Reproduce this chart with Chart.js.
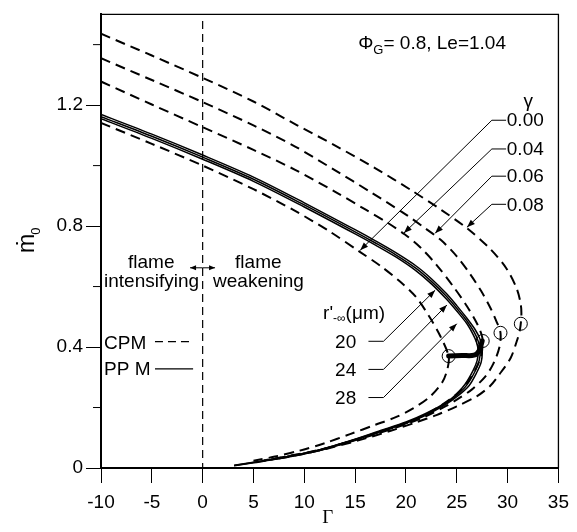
<!DOCTYPE html>
<html>
<head>
<meta charset="utf-8">
<script src="https://cdn.jsdelivr.net/npm/chart.js@4.4.0/dist/chart.umd.min.js"></script>
<style>
  html, body { margin: 0; padding: 0; background: #fff; }
</style>
</head>
<body>
<canvas id="chart" width="577" height="532"></canvas>
<script>
// axis ticks
const gammaTicks = [-10, -5, 0, 5, 10, 15, 20, 25, 30, 35];
const mTicks = [0, 0.2, 0.4, 0.6, 0.8, 1.0, 1.2, 1.4];
const mTickLabels = ['0', '', '0.4', '', '0.8', '', '1.2', ''];

// CPM (dashed) curves, [Gamma, m0], upper branch -> turning point -> lower branch
const cpmGamma000 = [[-10, 1.141], [-5, 1.072], [0, 1.0], [5, 0.922], [9.1, 0.85], [12.5, 0.782], [15.5, 0.714],
  [17.5, 0.668], [19.5, 0.614], [21, 0.565], [22.4, 0.495], [23.4, 0.435], [24.2, 0.37], [24.1, 0.33],
  [23.6, 0.285], [22.4, 0.237], [20.7, 0.197], [19, 0.168], [17, 0.143], [14.5, 0.112], [12, 0.082],
  [9.5, 0.057], [7, 0.037], [5, 0.024]];
const cpmGamma004 = [[-10, 1.278], [-5, 1.202], [0, 1.127], [5, 1.052], [9.1, 0.986], [13, 0.914], [16, 0.855],
  [18, 0.815], [19.9, 0.772], [21.4, 0.73], [23, 0.672], [24.7, 0.598], [26, 0.535], [27, 0.477], [27.45, 0.44],
  [27.55, 0.418], [27.4, 0.37], [26.9, 0.33], [26.2, 0.29], [25, 0.245], [23.5, 0.208], [22, 0.178], [20, 0.148],
  [17.5, 0.12], [14.5, 0.088], [11.5, 0.06], [8.5, 0.04], [6, 0.025]];
const cpmGamma006 = [[-10, 1.355], [-5, 1.283], [0, 1.21], [5, 1.133], [9.1, 1.063], [13, 0.985], [16.5, 0.913],
  [20, 0.838], [22, 0.79], [23.5, 0.752], [25, 0.7], [26.3, 0.642], [27.4, 0.585], [28.3, 0.53], [28.9, 0.485],
  [29.3, 0.447], [29.2, 0.4], [28.6, 0.345], [27.8, 0.302], [26.5, 0.26], [25, 0.226], [24, 0.206], [22, 0.172],
  [20, 0.145], [17.5, 0.117], [14.5, 0.087], [11.5, 0.059], [8.5, 0.039], [6, 0.024]];
const cpmGamma008 = [[-10, 1.436], [-5, 1.364], [0, 1.29], [5, 1.212], [9.26, 1.134], [13, 1.067], [17, 0.991],
  [20.5, 0.919], [23.5, 0.853], [26, 0.793], [28.3, 0.724], [29.9, 0.659], [30.9, 0.593], [31.3, 0.54],
  [31.35, 0.5], [31.2, 0.455], [30.9, 0.419], [30.3, 0.364], [29.2, 0.31], [28.3, 0.272], [27, 0.238], [25, 0.204],
  [23, 0.175], [21, 0.151], [18.5, 0.123], [15.5, 0.093], [12.5, 0.066], [9.5, 0.044], [7, 0.028]];

// PPM (solid) curves for r'_-inf = 20, 24, 28 um
const ppmR20 = [[-10, 1.169], [-5, 1.104], [0, 1.035], [5, 0.962], [10, 0.877], [15, 0.788], [17, 0.751],
  [19, 0.712], [21, 0.668], [22.5, 0.626], [24, 0.576], [25, 0.537], [26, 0.495], [26.8, 0.458], [27.3, 0.425],
  [27.5, 0.39], [27.4, 0.35], [26.95, 0.315], [26.2, 0.272], [25.1, 0.238], [24, 0.212], [22, 0.175], [20, 0.148],
  [17.5, 0.12], [14.2, 0.085], [11, 0.054], [7.6, 0.031], [5, 0.017], [3.1, 0.007]];
const ppmR24 = [[-10, 1.162], [-5, 1.097], [0, 1.028], [5, 0.955], [10, 0.87], [15, 0.781], [17, 0.744],
  [19, 0.705], [21, 0.66], [22.5, 0.617], [24, 0.567], [25, 0.528], [26, 0.486], [26.7, 0.45], [27.1, 0.42],
  [27.3, 0.39], [27.2, 0.355], [26.8, 0.32], [26, 0.275], [25, 0.24], [24, 0.215], [22, 0.178], [20, 0.15],
  [17.5, 0.122], [14.2, 0.086], [11, 0.055], [7.6, 0.032], [5, 0.018], [3.1, 0.008]];
const ppmR28 = [[-10, 1.155], [-5, 1.09], [0, 1.021], [5, 0.948], [10, 0.863], [15, 0.774], [17, 0.737],
  [19, 0.698], [21, 0.652], [22.5, 0.609], [24, 0.558], [25, 0.519], [26, 0.477], [26.6, 0.442], [26.95, 0.415],
  [27.1, 0.388], [27, 0.355], [26.6, 0.322], [25.8, 0.276], [24.9, 0.242], [24, 0.218], [22, 0.181],
  [20, 0.152], [17.5, 0.124], [14.2, 0.087], [11, 0.056], [7.6, 0.033], [5, 0.019], [3.1, 0.009]];

// jump from the CPM (gamma=0) turning point onto the PPM curves
const jumpPath = [[24.2, 0.37], [25.5, 0.372], [26.7, 0.373], [27.2, 0.388], [27.5, 0.42]];
// turning points circled in the figure
const turningPoints = [[24.2, 0.37], [27.55, 0.42], [29.3, 0.447], [31.3, 0.477]];

// annotation text + anchors (data units)
const gammaLabels = ['0.00', '0.04', '0.06', '0.08'];
const gammaLabelLineM = [1.150, 1.055, 0.965, 0.872];
const gammaArrowTips = [[15.5, 0.72], [19.8, 0.777], [22.87, 0.776], [26.0, 0.796]];
const rLabels = ['20', '24', '28'];
const rLabelLineM = [0.419, 0.326, 0.233];
const rArrowTips = [[22.87, 0.588], [24.03, 0.539], [25.0, 0.477]];

const toXY = pts => pts.map(([x, y]) => ({ x, y }));

const curve = (pts, dashed) => ({
  data: toXY(pts),
  showLine: true,
  borderColor: '#000',
  borderWidth: dashed ? 2 : 1.5,
  borderDash: dashed ? [10, 6] : [],
  pointRadius: 0,
  tension: 0.3,
  fill: false
});

const FONT = '19px "Liberation Sans", Arial, sans-serif';

function arrow(ctx, x1, y1, x2, y2, len = 8, half = 3) {
  ctx.beginPath(); ctx.moveTo(x1, y1); ctx.lineTo(x2, y2); ctx.stroke();
  const a = Math.atan2(y2 - y1, x2 - x1);
  ctx.beginPath();
  ctx.moveTo(x2, y2);
  ctx.lineTo(x2 - len * Math.cos(a) + half * Math.sin(a), y2 - len * Math.sin(a) - half * Math.cos(a));
  ctx.lineTo(x2 - len * Math.cos(a) - half * Math.sin(a), y2 - len * Math.sin(a) + half * Math.cos(a));
  ctx.closePath(); ctx.fill();
}

const annotations = {
  id: 'annotations',
  beforeDatasetsDraw(chart) {
    const { ctx, scales: { x, y } } = chart;
    // flame intensifying / weakening divider at Gamma = 0
    ctx.save();
    ctx.strokeStyle = '#000'; ctx.lineWidth = 1.2; ctx.setLineDash([8, 5]);
    ctx.beginPath();
    ctx.moveTo(x.getPixelForValue(0), y.getPixelForValue(1.478));
    ctx.lineTo(x.getPixelForValue(0), y.getPixelForValue(0));
    ctx.stroke();
    ctx.restore();
  },
  afterDraw(chart) {
    const { ctx, chartArea: ca, scales: { x, y } } = chart;
    const px = v => x.getPixelForValue(v);
    const py = v => y.getPixelForValue(v);
    ctx.save();
    ctx.fillStyle = '#000'; ctx.strokeStyle = '#000';

    // frame top/right
    ctx.lineWidth = 1.3;
    ctx.beginPath();
    ctx.moveTo(ca.left, ca.top); ctx.lineTo(ca.right, ca.top); ctx.lineTo(ca.right, ca.bottom);
    ctx.stroke();

    // short minor ticks on the m axis
    ctx.lineWidth = 1;
    mTicks.forEach((v, i) => {
      if (mTickLabels[i] !== '') return;
      ctx.beginPath(); ctx.moveTo(ca.left - 8, py(v)); ctx.lineTo(ca.left, py(v)); ctx.stroke();
    });

    // axis titles
    ctx.font = '19px "Liberation Serif", "Times New Roman", serif';
    ctx.textAlign = 'center'; ctx.textBaseline = 'alphabetic';
    ctx.fillText('Γ', (ca.left + ca.right) / 2 - 2, ca.bottom + 55);

    ctx.save();
    ctx.translate(33.5, 253);
    ctx.rotate(-Math.PI / 2);
    ctx.textAlign = 'left';
    ctx.font = '23px "Liberation Sans", "DejaVu Sans", sans-serif';
    ctx.fillText('ṁ', 0, 0);
    const mw = ctx.measureText('ṁ').width;
    ctx.font = '13px "Liberation Sans", sans-serif';
    ctx.fillText('0', mw - 1, 6);
    ctx.restore();

    ctx.font = FONT;
    ctx.textAlign = 'left'; ctx.textBaseline = 'alphabetic';

    // flame labels
    ctx.fillText('flame', px(-7.34), py(0.663));
    ctx.fillText('intensifying', px(-9.7), py(0.599));
    ctx.fillText('flame', px(3.19), py(0.663));
    ctx.fillText('weakening', px(1.02), py(0.599));
    ctx.lineWidth = 1;
    arrow(ctx, px(0), py(0.662), px(-1.24), py(0.662), 6, 2.5);
    arrow(ctx, px(0), py(0.662), px(1.22), py(0.662), 6, 2.5);

    // legend
    ctx.fillText('CPM', px(-9.7), py(0.395));
    ctx.fillText('PP M', px(-9.7), py(0.308));
    ctx.lineWidth = 1.2;
    ctx.setLineDash([8, 5]);
    ctx.beginPath(); ctx.moveTo(px(-4.69), py(0.418)); ctx.lineTo(px(-0.94), py(0.418)); ctx.stroke();
    ctx.setLineDash([]);
    ctx.beginPath(); ctx.moveTo(px(-4.69), py(0.328)); ctx.lineTo(px(-0.94), py(0.328)); ctx.stroke();

    // Phi_G, Le
    let tx = px(15.3);
    const ty = py(1.385);
    ctx.fillText('Φ', tx, ty);
    tx += ctx.measureText('Φ').width;
    ctx.font = '13px "Liberation Sans", sans-serif';
    ctx.fillText('G', tx, ty + 5);
    tx += ctx.measureText('G').width;
    ctx.font = FONT;
    ctx.fillText('= 0.8, Le=1.04', tx, ty);

    // gamma labels with leaders
    ctx.textAlign = 'center';
    ctx.fillText('γ', px(32.03), py(1.195));
    ctx.textAlign = 'left'; ctx.textBaseline = 'middle';
    ctx.lineWidth = 1;
    gammaLabels.forEach((t, i) => {
      const ly = py(gammaLabelLineM[i]);
      ctx.fillText(t, px(29.92), ly + 1);
      ctx.beginPath(); ctx.moveTo(px(29.85), ly); ctx.lineTo(px(28.45), ly); ctx.stroke();
      arrow(ctx, px(28.45), ly, px(gammaArrowTips[i][0]), py(gammaArrowTips[i][1]));
    });

    // r'_-inf labels with leaders
    ctx.textBaseline = 'alphabetic';
    let rx = px(11.85);
    const ry = py(0.494);
    ctx.fillText("r'", rx, ry);
    rx += ctx.measureText("r'").width;
    ctx.font = '12px "Liberation Sans", sans-serif';
    ctx.fillText('-∞', rx, ry + 3);
    rx += ctx.measureText('-∞').width;
    ctx.font = FONT;
    ctx.fillText('(μm)', rx, ry);
    ctx.textBaseline = 'middle';
    rLabels.forEach((t, i) => {
      const ly = py(rLabelLineM[i]);
      ctx.fillText(t, px(13.03), ly + 1);
      ctx.beginPath(); ctx.moveTo(px(16.31), ly); ctx.lineTo(px(17.79), ly); ctx.stroke();
      arrow(ctx, px(17.79), ly, px(rArrowTips[i][0]), py(rArrowTips[i][1]));
    });
    ctx.restore();
  }
};

new Chart(document.getElementById('chart'), {
  type: 'scatter',
  data: {
    datasets: [
      curve(cpmGamma000, true),
      curve(cpmGamma004, true),
      curve(cpmGamma006, true),
      curve(cpmGamma008, true),
      curve(ppmR20, false),
      curve(ppmR24, false),
      curve(ppmR28, false),
      {
        data: toXY(jumpPath), showLine: true, borderColor: '#000', borderWidth: 5,
        pointRadius: 0, tension: 0.3, borderCapStyle: 'round'
      },
      {
        data: toXY(turningPoints), showLine: false, pointRadius: 6.5, pointBorderWidth: 1,
        pointBorderColor: '#000', pointBackgroundColor: 'rgba(0,0,0,0)'
      }
    ]
  },
  options: {
    responsive: false,
    animation: false,
    devicePixelRatio: 1,
    layout: { padding: { top: 9, right: 18, left: 0, bottom: 0 } },
    plugins: { legend: { display: false }, tooltip: { enabled: false } },
    scales: {
      x: {
        type: 'linear', min: -10, max: 35,
        afterBuildTicks: s => { s.ticks = gammaTicks.map(v => ({ value: v })); },
        afterFit: s => { s.height = 64; },
        ticks: { autoSkip: false, maxRotation: 0, padding: 8, color: '#000',
          font: { family: '"Liberation Sans", Arial, sans-serif', size: 19 } },
        grid: { drawOnChartArea: false, drawTicks: true, tickLength: 15, color: '#000', lineWidth: 1 },
        border: { color: '#000', width: 2 }
      },
      y: {
        type: 'linear', min: 0, max: 1.5,
        afterBuildTicks: s => { s.ticks = mTicks.map(v => ({ value: v })); },
        afterFit: s => { s.width = 101; },
        ticks: { autoSkip: false, padding: 3, color: '#000',
          callback: (v, i) => mTickLabels[i],
          font: { family: '"Liberation Sans", Arial, sans-serif', size: 19 } },
        grid: {
          drawOnChartArea: false, drawTicks: true, tickLength: 15, lineWidth: 1,
          color: c => (c.index % 2 === 0 ? '#000' : 'rgba(0,0,0,0)')
        },
        border: { color: '#000', width: 2 }
      }
    }
  },
  plugins: [annotations]
});
</script>
</body>
</html>
